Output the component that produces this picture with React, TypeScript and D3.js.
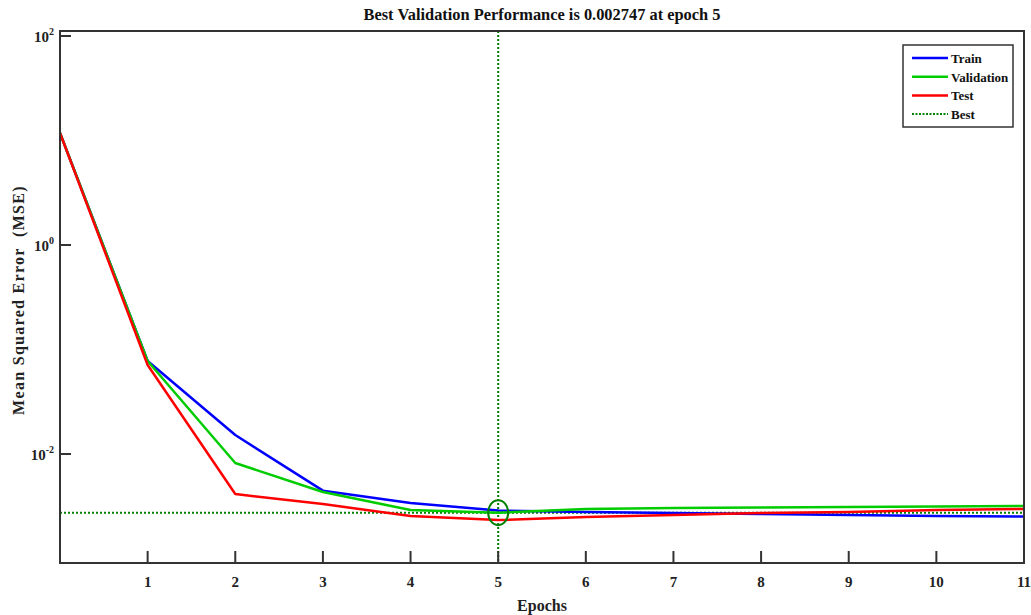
import React from 'react'
import { scaleLinear, scaleLog, line } from 'd3'

// epochs 0..11
const epochs = [0, 1, 2, 3, 4, 5, 6, 7, 8, 9, 10, 11]
const trainVals = [11.8, 0.0776, 0.0152, 0.00446, 0.0034, 0.00288, 0.00279, 0.00272, 0.00267, 0.00261, 0.00255, 0.00252]
const validVals = [11.8, 0.0776, 0.0082, 0.00433, 0.00291, 0.002747, 0.00298, 0.00304, 0.00308, 0.00311, 0.00315, 0.00318]
const testVals = [11.8, 0.0711, 0.00414, 0.00332, 0.00255, 0.00233, 0.00249, 0.00261, 0.00272, 0.00279, 0.00291, 0.00298]

const xTicks = [1, 2, 3, 4, 5, 6, 7, 8, 9, 10, 11]
const yTickExps = [2, 0, -2]
const bestEpoch = 5
const bestPerf = 0.002747

const seriesNames = ['Train', 'Validation', 'Test', 'Best']

const FONT = '"Liberation Serif", "Times New Roman", serif'

export default function App() {
  const margin = { top: 31, right: 7, bottom: 52, left: 60 }
  const W = 1031
  const H = 615

  const x = scaleLinear().domain([0, 11]).range([margin.left, W - margin.right])
  const y = scaleLog()
    .domain([Math.pow(10, -3.043), Math.pow(10, 2.048)])
    .range([H - margin.bottom, margin.top])

  const mkLine = line<number>()
    .x((d, i) => x(epochs[i]))
    .y(d => y(d))

  const series = [
    { name: 'Train', vals: trainVals, color: '#0000ff' },
    { name: 'Validation', vals: validVals, color: '#00cc00' },
    { name: 'Test', vals: testVals, color: '#ff0000' },
  ]

  const bestColor = '#008000'
  const axisColor = '#333'
  const x0 = x.range()[0]
  const x1 = x.range()[1]
  const y0 = y.range()[0]
  const y1 = y.range()[1]

  const legend = { x: 903, y: 45, w: 110, h: 82 }
  const legendColors = ['#0000ff', '#00cc00', '#ff0000', bestColor]

  return (
    <svg
      width={W}
      height={H}
      style={{ position: 'absolute', left: 0, top: 0, background: '#fff' }}
      fontFamily={FONT}
      fontWeight="bold"
    >
      <text x={542} y={20} textAnchor="middle" fontSize={16.4} fill="#111">
        Best Validation Performance is 0.002747 at epoch 5
      </text>

      {/* best guides */}
      <line x1={x0} x2={x1} y1={y(bestPerf)} y2={y(bestPerf)} stroke={bestColor} strokeWidth={2} strokeDasharray="2 2" />
      <line x1={x(bestEpoch)} x2={x(bestEpoch)} y1={y1} y2={y0} stroke={bestColor} strokeWidth={2} strokeDasharray="2 2" />

      {series.map(s => (
        <path key={s.name} d={mkLine(s.vals) || ''} fill="none" stroke={s.color} strokeWidth={2.5} strokeLinejoin="round" />
      ))}

      <ellipse cx={x(bestEpoch)} cy={y(bestPerf)} rx={10} ry={12.5} fill="none" stroke={bestColor} strokeWidth={2} />

      {/* axes box */}
      <rect x={x0} y={y1} width={x1 - x0} height={y0 - y1} fill="none" stroke={axisColor} strokeWidth={2} />

      {xTicks.map(t => (
        <g key={t}>
          <line x1={x(t)} x2={x(t)} y1={y0} y2={y0 - 12} stroke={axisColor} strokeWidth={2} />
          <text x={x(t)} y={y0 + 24} textAnchor="middle" fontSize={15} fill="#222">{t}</text>
        </g>
      ))}

      {yTickExps.map(e => (
        <g key={e}>
          <line x1={x0} x2={x0 + 11} y1={y(Math.pow(10, e))} y2={y(Math.pow(10, e))} stroke={axisColor} strokeWidth={2} />
          <text x={x0 - 6} y={y(Math.pow(10, e)) + 6} textAnchor="end" fontSize={15} fill="#222">
            10<tspan dy={-7} fontSize={10}>{e}</tspan>
          </text>
        </g>
      ))}

      <text x={542} y={H - 4} textAnchor="middle" fontSize={16} fill="#222">Epochs</text>
      <text
        transform={`translate(24, 300) rotate(-90)`}
        textAnchor="middle"
        fontSize={16}
        letterSpacing={1.3}
        fill="#222"
        xmlSpace="preserve"
        style={{ whiteSpace: 'pre' }}
      >
        {'Mean Squared Error  (MSE)'}
      </text>

      {/* legend */}
      <rect x={legend.x} y={legend.y} width={legend.w} height={legend.h} fill="#fff" stroke={axisColor} strokeWidth={1.5} />
      {seriesNames.map((n, i) => {
        const ly = legend.y + 13 + i * 18.7
        return (
          <g key={n}>
            <line
              x1={legend.x + 9}
              x2={legend.x + 45}
              y1={ly}
              y2={ly}
              stroke={legendColors[i]}
              strokeWidth={n === 'Best' ? 2 : 2.5}
              strokeDasharray={n === 'Best' ? '2 1.5' : undefined}
            />
            <text x={legend.x + 48} y={ly + 5} fontSize={13} fill="#111">{n}</text>
          </g>
        )
      })}
    </svg>
  )
}
